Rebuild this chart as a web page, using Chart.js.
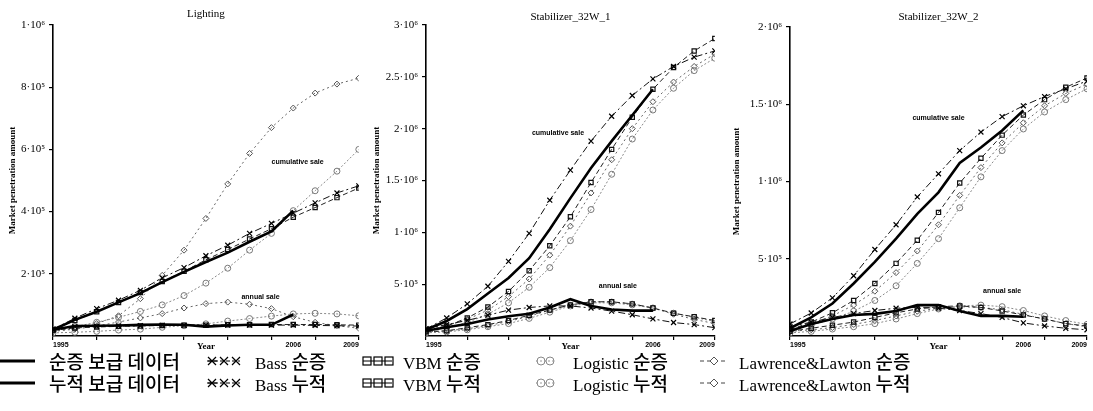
<!DOCTYPE html>
<html><head><meta charset="utf-8">
<script src="https://cdn.jsdelivr.net/npm/chart.js@4"></script>
<style>
body{margin:0;background:#fff;width:1093px;height:411px;overflow:hidden;position:relative}
canvas{position:absolute;top:0}
.lt{position:absolute;white-space:nowrap;height:22px;line-height:22px;color:#000}
.ko{font-family:"Noto Sans CJK KR",sans-serif;font-size:19px;font-weight:500}
.la{font-family:"Liberation Serif",serif;font-size:17px}
#legsvg{position:absolute;left:0;top:0}
</style></head><body>
<canvas id="c1" width="364" height="352" style="left:0px"></canvas>
<canvas id="c2" width="356" height="352" style="left:364px"></canvas>
<canvas id="c3" width="369" height="352" style="left:724px"></canvas>
<svg id="legsvg" width="1093" height="411"></svg>
<script>
// ---------- data ----------
const years = [1995,1996,1997,1998,1999,2000,2001,2002,2003,2004,2005,2006,2007,2008,2009];

// Lighting
const lightActualAnnual = [20000,32000,33000,34000,36000,37000,36000,30000,34000,36000,36000,69000];
const lightActualCum    = [20000,52000,78000,108000,138000,173000,206000,238000,268000,303000,336000,403000];
const lightBassAnnual   = [22000,30000,31000,32000,33000,34000,34000,35000,35000,35000,35000,35000,34000,33000,32000];
const lightBassCum      = [22000,57000,88000,115000,147000,187000,220000,258000,292000,330000,362000,395000,428000,460000,483000];
const lightVbmAnnual    = [18000,26000,29000,31000,32000,34000,35000,35000,36000,36000,37000,37000,37000,36000,35000];
const lightVbmCum       = [20000,50000,78000,108000,140000,175000,208000,245000,278000,312000,345000,382000,413000,445000,476000];
const lightLogAnnual    = [10000,12000,15000,19000,22000,28000,33000,39000,48000,56000,64000,71000,73000,71000,65000];
const lightLogCum       = [20000,30000,44000,60000,79000,100000,130000,170000,218000,276000,330000,403000,467000,530000,600000];
const lightLLAnnual     = [15000,22000,32000,45000,58000,72000,90000,104000,109000,102000,88000,62000,44000,33000,25000];
const lightLLCum        = [15000,25000,40000,65000,120000,195000,276000,378000,489000,587000,670000,733000,781000,810000,829000];

// Stabilizer_32W_1
const s1ActualAnnual = [50000,85000,115000,160000,190000,215000,275000,355000,290000,255000,245000,245000];
const s1ActualCum    = [60000,145000,260000,410000,560000,750000,1030000,1330000,1620000,1880000,2130000,2380000];
const s1BassAnnual   = [70000,110000,150000,200000,250000,275000,290000,290000,270000,240000,205000,165000,130000,110000,80000];
const s1BassCum      = [68000,174000,310000,480000,720000,990000,1310000,1600000,1880000,2120000,2320000,2480000,2600000,2690000,2750000];
const s1VbmAnnual    = [40000,50000,80000,110000,150000,200000,250000,300000,330000,330000,310000,270000,220000,185000,150000];
const s1VbmCum       = [50000,96000,174000,280000,430000,630000,870000,1150000,1480000,1800000,2110000,2380000,2590000,2750000,2870000];
const s1LogAnnual    = [30000,40000,60000,90000,120000,170000,230000,290000,320000,320000,300000,270000,220000,180000,140000];
const s1LogCum       = [45000,80000,130000,210000,320000,470000,660000,920000,1220000,1560000,1900000,2180000,2390000,2560000,2680000];
const s1LLAnnual     = [40000,50000,70000,100000,140000,190000,250000,300000,330000,330000,310000,270000,210000,160000,120000];
const s1LLCum        = [50000,100000,160000,250000,380000,550000,780000,1060000,1380000,1700000,2000000,2260000,2450000,2600000,2720000];

// Stabilizer_32W_2
const s2ActualAnnual = [32000,78000,110000,136000,143000,162000,200000,200000,162000,130000,130000,125000];
const s2ActualCum    = [50000,120000,210000,340000,480000,630000,790000,930000,1120000,1220000,1330000,1460000];
const s2BassAnnual   = [60000,90000,120000,145000,165000,180000,185000,180000,165000,145000,120000,85000,65000,50000,40000];
const s2BassCum      = [78000,149000,247000,390000,560000,720000,900000,1050000,1200000,1320000,1420000,1490000,1550000,1600000,1650000];
const s2VbmAnnual    = [30000,50000,70000,90000,120000,150000,175000,190000,195000,185000,162000,136000,110000,80000,65000];
const s2VbmCum       = [40000,90000,150000,230000,340000,470000,620000,800000,990000,1150000,1300000,1430000,1530000,1610000,1670000];
const s2LogAnnual    = [20000,30000,45000,60000,80000,110000,145000,175000,195000,200000,190000,165000,130000,100000,75000];
const s2LogCum       = [40000,70000,110000,160000,230000,325000,470000,630000,830000,1030000,1200000,1340000,1450000,1530000,1600000];
const s2LLAnnual     = [30000,40000,55000,75000,100000,130000,160000,180000,190000,185000,170000,140000,110000,80000,60000];
const s2LLCum        = [40000,80000,130000,200000,290000,410000,550000,720000,910000,1090000,1250000,1380000,1490000,1570000,1630000];

// ticks
const xTickValues = [1995,1997,1999,2001,2002,2003,2005,2006,2007,2009];
const xTickLabels = {1995:'1995',2002:'Year',2006:'2006',2009:'2009'};
const lightYTicks = [200000,400000,600000,800000,1000000];
const lightYLabels = ['2·10⁵','4·10⁵','6·10⁵','8·10⁵','1·10⁶'];
const s1YTicks = [500000,1000000,1500000,2000000,2500000,3000000];
const s1YLabels = ['5·10⁵','1·10⁶','1.5·10⁶','2·10⁶','2.5·10⁶','3·10⁶'];
const s2YTicks = [500000,1000000,1500000,2000000];
const s2YLabels = ['5·10⁵','1·10⁶','1.5·10⁶','2·10⁶'];

const legendRow1 = ['순증 보급 데이터','Bass 순증','VBM 순증','Logistic 순증','Lawrence&Lawton 순증'];
const legendRow2 = ['누적 보급 데이터','Bass 누적','VBM 누적','Logistic 누적','Lawrence&Lawton 누적'];

// ---------- styles ----------
const pts = arr => arr.map((v,i)=>({x:years[i], y:v}));
const sty = {
  actual:{borderColor:'#000',borderWidth:2.6,pointRadius:0,borderDash:[]},
  bass:{borderColor:'#111',borderWidth:1,pointStyle:'crossRot',pointRadius:3.5,pointBorderWidth:1.2,pointBorderColor:'#000',borderDash:[7,3,2,3]},
  vbm:{borderColor:'#222',borderWidth:1,pointStyle:'rect',pointRadius:3,pointBorderWidth:1.2,pointBorderColor:'#111',pointBackgroundColor:'rgba(255,255,255,0)',borderDash:[5,3]},
  log:{borderColor:'#8a8a8a',borderWidth:1,pointStyle:'circle',pointRadius:3,pointBorderWidth:1,pointBorderColor:'#777',pointBackgroundColor:'rgba(255,255,255,0)',borderDash:[2,2]},
  ll:{borderColor:'#666',borderWidth:1,pointStyle:'rectRot',pointRadius:3,pointBorderWidth:1,pointBorderColor:'#555',pointBackgroundColor:'rgba(255,255,255,0)',borderDash:[2,3]}
};
function ds(label, arr, s){ return Object.assign({label, data:pts(arr), tension:0, fill:false, backgroundColor:'rgba(0,0,0,0)'}, s); }

const textPlugin = {
  id:'texts',
  afterDraw(chart, args, opts){
    const ctx = chart.ctx, xs = chart.scales.x, ys = chart.scales.y, ca = chart.chartArea;
    ctx.save();
    ctx.fillStyle = '#000'; ctx.textAlign='center'; ctx.textBaseline='middle';
    ctx.font = '11px "Liberation Serif"';
    ctx.fillText(opts.title, (ca.left+ca.right)/2, opts.titleY);
    ctx.font = 'bold 7px "Liberation Sans"';
    opts.notes.forEach(n => ctx.fillText(n.text, xs.getPixelForValue(n.x), ys.getPixelForValue(n.y)));
    ctx.restore();
  }
};

function makeChart(id, c){
  const datasets = [
    ds('actual annual', c.aa, sty.actual), ds('actual cum', c.ac, sty.actual),
    ds('bass annual', c.ba, sty.bass), ds('bass cum', c.bc, sty.bass),
    ds('vbm annual', c.va, sty.vbm), ds('vbm cum', c.vc, sty.vbm),
    ds('log annual', c.la, sty.log), ds('log cum', c.lc, sty.log),
    ds('ll annual', c.lla, sty.ll), ds('ll cum', c.llc, sty.ll)
  ];
  new Chart(document.getElementById(id), {
    type:'line',
    data:{datasets},
    plugins:[textPlugin],
    options:{
      responsive:false, animation:false, devicePixelRatio:1,
      layout:{padding:{top:c.top,right:c.right,left:0,bottom:0}},
      plugins:{legend:{display:false},tooltip:{enabled:false},title:{display:false},
        texts:{title:c.title,titleY:c.titleY,notes:c.notes}},
      scales:{
        x:{type:'linear',min:1995,max:2009,
          afterBuildTicks:s=>{s.ticks = xTickValues.map(v=>({value:v}));},
          afterFit:s=>{s.height=16;},
          grid:{display:true,drawOnChartArea:false,drawTicks:true,tickLength:4,lineWidth:1.2,
            color:ctx=> (ctx.tick && (ctx.tick.value===2002||ctx.tick.value===2006)) ? 'rgba(0,0,0,0)' : '#000'},
          border:{display:true,color:'#000',width:1.6},
          ticks:{autoSkip:false,maxRotation:0,align:'inner',padding:1,color:'#000',
            callback:v=> xTickLabels[v] ?? '',
            font:ctx=> (ctx.tick && ctx.tick.value===2002) ? {family:'Liberation Serif',size:9,weight:'bold'} : {family:'Liberation Sans',size:7,weight:'bold'}}
        },
        y:{type:'linear',min:0,max:c.ymax,
          afterBuildTicks:s=>{s.ticks = c.yt.map(v=>({value:v}));},
          afterFit:s=>{s.width=c.yw;},
          grid:{display:true,drawOnChartArea:false,drawTicks:true,tickLength:4,lineWidth:1.2,color:'#000'},
          border:{display:true,color:'#000',width:1.6},
          ticks:{autoSkip:false,padding:4,color:'#000',font:{family:'Liberation Serif',size:11},
            callback:v=>{const i=c.yt.indexOf(v); return i>=0?c.yl[i]:'';}},
          title:{display:true,text:'Market penetration amount',color:'#000',padding:{top:7,bottom:0},
            font:{family:'Liberation Serif',size:9,weight:'bold'}}
        }
      }
    }
  });
}

makeChart('c1',{aa:lightActualAnnual,ac:lightActualCum,ba:lightBassAnnual,bc:lightBassCum,va:lightVbmAnnual,vc:lightVbmCum,
  la:lightLogAnnual,lc:lightLogCum,lla:lightLLAnnual,llc:lightLLCum,ymax:1000000,yt:lightYTicks,yl:lightYLabels,
  top:25,right:3,yw:53,title:'Lighting',titleY:14,
  notes:[{text:'cumulative sale',x:2006.2,y:560000},{text:'annual sale',x:2004.5,y:124000}]});
makeChart('c2',{aa:s1ActualAnnual,ac:s1ActualCum,ba:s1BassAnnual,bc:s1BassCum,va:s1VbmAnnual,vc:s1VbmCum,
  la:s1LogAnnual,lc:s1LogCum,lla:s1LLAnnual,llc:s1LLCum,ymax:3000000,yt:s1YTicks,yl:s1YLabels,
  top:25,right:3,yw:62,title:'Stabilizer_32W_1',titleY:17,
  notes:[{text:'cumulative sale',x:2001.4,y:1960000},{text:'annual sale',x:2004.3,y:480000}]});
makeChart('c3',{aa:s2ActualAnnual,ac:s2ActualCum,ba:s2BassAnnual,bc:s2BassCum,va:s2VbmAnnual,vc:s2VbmCum,
  la:s2LogAnnual,lc:s2LogCum,lla:s2LLAnnual,llc:s2LLCum,ymax:2000000,yt:s2YTicks,yl:s2YLabels,
  top:27,right:6,yw:66,title:'Stabilizer_32W_2',titleY:17,
  notes:[{text:'cumulative sale',x:2002,y:1410000},{text:'annual sale',x:2005,y:290000}]});

// ---------- legend ----------
const rowY = [361, 383];
const textX = [49, 255, 403, 573, 739];
const svg = document.getElementById('legsvg');
const NS = 'http://www.w3.org/2000/svg';
function el(tag, attrs){ const e=document.createElementNS(NS,tag); for(const k in attrs) e.setAttribute(k,attrs[k]); svg.appendChild(e); return e; }
function sample(col, y){
  if(col===0){ el('line',{x1:0,y1:y,x2:35,y2:y,stroke:'#000','stroke-width':3}); }
  if(col===1){
    el('line',{x1:208,y1:y,x2:240,y2:y,stroke:'#000','stroke-width':1,'stroke-dasharray':'4,2'});
    [212,224,236].forEach((cx,i)=>{
      el('path',{d:`M${cx-4},${y-4}L${cx+4},${y+4}M${cx-4},${y+4}L${cx+4},${y-4}`+(i===0?`M${cx-5},${y}L${cx+5},${y}`:''),stroke:'#000','stroke-width':1.2,fill:'none'});
    });
  }
  if(col===2){
    el('line',{x1:363,y1:y,x2:392,y2:y,stroke:'#000','stroke-width':1});
    [367,378,389].forEach(cx=>el('rect',{x:cx-4,y:y-4,width:8,height:8,stroke:'#000','stroke-width':1.2,fill:'none'}));
  }
  if(col===3){
    el('line',{x1:536,y1:y,x2:554,y2:y,stroke:'#999','stroke-width':1,'stroke-dasharray':'2,2'});
    [541,550].forEach(cx=>el('circle',{cx,cy:y,r:4,stroke:'#888','stroke-width':1,fill:'none'}));
  }
  if(col===4){
    el('line',{x1:700,y1:y,x2:728,y2:y,stroke:'#444','stroke-width':1,'stroke-dasharray':'4,3'});
    el('path',{d:`M714,${y-4}L718,${y}L714,${y+4}L710,${y}Z`,stroke:'#555','stroke-width':1,fill:'#fff'});
  }
}
function addText(txt, x, y){
  const d = document.createElement('div');
  d.className='lt'; d.style.left = x+'px'; d.style.top = (y-11)+'px';
  txt.split(/([\uAC00-\uD7A3][\uAC00-\uD7A3 ]*)/).forEach(part=>{
    if(!part) return;
    const s=document.createElement('span');
    s.className = /[\uAC00-\uD7A3]/.test(part) ? 'ko' : 'la';
    s.textContent = part; d.appendChild(s);
  });
  document.body.appendChild(d);
}
[legendRow1, legendRow2].forEach((row, r)=>{
  row.forEach((t, c)=>{ sample(c, rowY[r]); addText(t, textX[c], rowY[r]); });
});
</script>
</body></html>
